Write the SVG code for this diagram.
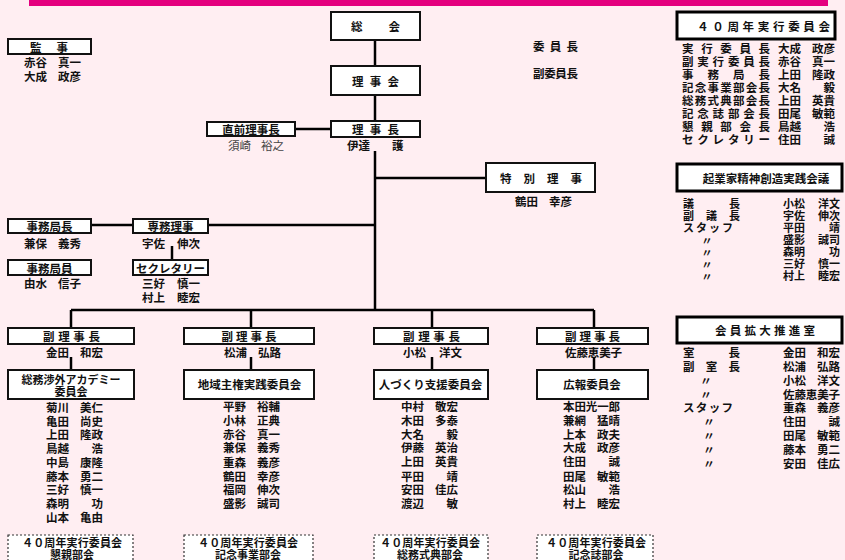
<svg xmlns="http://www.w3.org/2000/svg" width="845" height="560" viewBox="0 0 845 560">
<style>
.t{font-family:"Noto Sans CJK JP","Noto Sans CJK SC",sans-serif;font-weight:700;font-size:11.5px;fill:#111;dominant-baseline:central}
.r{font-size:11.5px}
.s{font-size:11px}
.m{text-anchor:middle}
.e{text-anchor:end}
.lt{font-weight:400;fill:#444}
.box{fill:#fff;stroke:#111;stroke-width:2}
.hbox{fill:#fff;stroke:#000;stroke-width:3}
.dbox{fill:#fff;stroke:#333;stroke-width:1.2;stroke-dasharray:2 2}
.ln{stroke:#000;stroke-width:2.5;fill:none}
</style>
<rect width="845" height="560" fill="#FFEEF2"/>
<rect x="29" y="0" width="799" height="6" fill="#E4007F"/>

<g id="connectors">
<line class="ln" x1="375" y1="40" x2="375" y2="66"/>
<line class="ln" x1="375" y1="95" x2="375" y2="121"/>
<line class="ln" x1="295" y1="129" x2="331" y2="129"/>
<line class="ln" x1="375" y1="151" x2="375" y2="311"/>
<line class="ln" x1="375" y1="178" x2="486" y2="178"/>
<line class="ln" x1="208" y1="225" x2="375" y2="225" stroke-width="3"/>
<line class="ln" x1="91" y1="225" x2="133" y2="225" stroke-width="3"/>
<line class="ln" x1="172" y1="246" x2="172" y2="260" stroke-width="2"/>
<line class="ln" x1="71" y1="310" x2="594" y2="310"/>
<line class="ln" x1="71" y1="310" x2="71" y2="328"/>
<line class="ln" x1="251" y1="310" x2="251" y2="328"/>
<line class="ln" x1="432" y1="310" x2="432" y2="328"/>
<line class="ln" x1="594" y1="310" x2="594" y2="328"/>
<line class="ln" x1="71" y1="357" x2="71" y2="370" stroke-width="2"/>
<line class="ln" x1="251" y1="357" x2="251" y2="370" stroke-width="2"/>
<line class="ln" x1="432" y1="357" x2="432" y2="370" stroke-width="2"/>
<line class="ln" x1="594" y1="357" x2="594" y2="370" stroke-width="2"/>
</g>

<g id="kanji">
<rect class="box" x="8" y="39" width="83" height="15"/>
<text class="t" x="30" y="46.5" textLength="38" lengthAdjust="spacing">監事</text>
<text class="t" x="24" y="62">赤谷</text><text class="t e" x="81" y="62">真一</text>
<text class="t" x="24" y="76">大成</text><text class="t e" x="81" y="76">政彦</text>
</g>

<g id="soukai">
<rect class="box" x="331" y="12" width="89" height="28"/>
<text class="t" x="351" y="26" textLength="49" lengthAdjust="spacing">総会</text>
</g>

<g id="rijikai">
<rect class="box" x="331" y="66" width="89" height="29"/>
<text class="t" x="352" y="80.5" textLength="47" lengthAdjust="spacing">理事会</text>
</g>

<g id="iincho">
<text class="t" x="533" y="46" textLength="45" lengthAdjust="spacing">委員長</text>
<text class="t" x="533" y="73" textLength="45" lengthAdjust="spacing">副委員長</text>
</g>

<g id="rijicho">
<rect class="box" x="331" y="121" width="89" height="16"/>
<text class="t" x="352" y="129" textLength="47" lengthAdjust="spacing">理事長</text>
<text class="t" x="347" y="145">伊達</text><text class="t" x="392" y="145">護</text>
</g>

<g id="zenrijicho">
<rect class="box" x="207" y="122" width="88" height="14"/>
<text class="t m" x="251" y="129">直前理事長</text>
<text class="t lt" x="228" y="145">須崎</text><text class="t lt e" x="284" y="145">裕之</text>
</g>

<g id="tokubetsu">
<rect class="box" x="486" y="163" width="109" height="29"/>
<text class="t" x="500" y="177.5" textLength="82" lengthAdjust="spacing">特別理事</text>
<text class="t" x="515" y="201">鶴田</text><text class="t e" x="572" y="201">幸彦</text>
</g>

<g id="senmu">
<rect class="box" x="133" y="219" width="75" height="14"/>
<text class="t m" x="170.5" y="226">専務理事</text>
<text class="t" x="142" y="243">宇佐</text><text class="t e" x="200" y="243">伸次</text>
</g>

<g id="jimukyokucho">
<rect class="box" x="8" y="219" width="83" height="14"/>
<text class="t m" x="49.5" y="226">事務局長</text>
<text class="t" x="24" y="243">兼保</text><text class="t e" x="81" y="243">義秀</text>
</g>

<g id="jimukyokuin">
<rect class="box" x="8" y="260" width="83" height="15"/>
<text class="t m" x="49.5" y="267.5">事務局員</text>
<text class="t" x="24" y="283">由水</text><text class="t e" x="81" y="283">信子</text>
</g>

<g id="secretary">
<rect class="box" x="133" y="260" width="75" height="15"/>
<text class="t m" x="170.5" y="267.5">セクレタリー</text>
<text class="t" x="142" y="283">三好</text><text class="t e" x="200" y="283">慎一</text>
<text class="t" x="142" y="297">村上</text><text class="t e" x="200" y="297">睦宏</text>
</g>

<g id="anniv40">
<rect class="hbox" x="677" y="12" width="158" height="27"/>
<text class="t r" x="697" y="25.5" textLength="133" lengthAdjust="spacing">４０周年実行委員会</text>
<text class="t r" x="682" y="48" textLength="88" lengthAdjust="spacing">実行委員長</text>
<text class="t r" x="682" y="61" textLength="88" lengthAdjust="spacing">副実行委員長</text>
<text class="t r" x="682" y="74" textLength="88" lengthAdjust="spacing">事務局長</text>
<text class="t r" x="682" y="87" textLength="88" lengthAdjust="spacing">記念事業部会長</text>
<text class="t r" x="682" y="100" textLength="88" lengthAdjust="spacing">総務式典部会長</text>
<text class="t r" x="682" y="113" textLength="88" lengthAdjust="spacing">記念誌部会長</text>
<text class="t r" x="682" y="126" textLength="88" lengthAdjust="spacing">懇親部会長</text>
<text class="t r" x="682" y="139" textLength="88" lengthAdjust="spacing">セクレタリー</text>
<text class="t r" x="778" y="48">大成</text><text class="t r e" x="835" y="48">政彦</text>
<text class="t r" x="778" y="61">赤谷</text><text class="t r e" x="835" y="61">真一</text>
<text class="t r" x="778" y="74">上田</text><text class="t r e" x="835" y="74">隆政</text>
<text class="t r" x="778" y="87">大名</text><text class="t r e" x="835" y="87">毅</text>
<text class="t r" x="778" y="100">上田</text><text class="t r e" x="835" y="100">英貴</text>
<text class="t r" x="778" y="113">田尾</text><text class="t r e" x="835" y="113">敏範</text>
<text class="t r" x="778" y="126">鳥越</text><text class="t r e" x="835" y="126">浩</text>
<text class="t r" x="778" y="139">住田</text><text class="t r e" x="835" y="139">誠</text>
</g>

<g id="kigyouka">
<rect class="hbox" x="677" y="164" width="165" height="27"/>
<text class="t m" x="766" y="177.5">起業家精神創造実践会議</text>
<text class="t s" x="683" y="203" textLength="57" lengthAdjust="spacing">議長</text>
<text class="t s" x="683" y="215" textLength="57" lengthAdjust="spacing">副議長</text>
<text class="t s" x="683" y="227" textLength="50" lengthAdjust="spacing">スタッフ</text>
<text class="t s m" x="707" y="239.5">〃</text>
<text class="t s m" x="707" y="251.5">〃</text>
<text class="t s m" x="707" y="263.5">〃</text>
<text class="t s m" x="707" y="275.5">〃</text>
<text class="t s" x="783" y="203">小松</text><text class="t s e" x="840" y="203">洋文</text>
<text class="t s" x="783" y="215">宇佐</text><text class="t s e" x="840" y="215">伸次</text>
<text class="t s" x="783" y="227">平田</text><text class="t s e" x="840" y="227">靖</text>
<text class="t s" x="783" y="239">盛影</text><text class="t s e" x="840" y="239">誠司</text>
<text class="t s" x="783" y="251">森明</text><text class="t s e" x="840" y="251">功</text>
<text class="t s" x="783" y="263">三好</text><text class="t s e" x="840" y="263">慎一</text>
<text class="t s" x="783" y="275">村上</text><text class="t s e" x="840" y="275">睦宏</text>
</g>

<g id="kaiin">
<rect class="hbox" x="677" y="317" width="165" height="26"/>
<text class="t r" x="715" y="330" textLength="100" lengthAdjust="spacing">会員拡大推進室</text>
<text class="t r" x="683" y="352" textLength="57" lengthAdjust="spacing">室長</text>
<text class="t r" x="683" y="366" textLength="57" lengthAdjust="spacing">副室長</text>
<text class="t r m" x="706" y="380">〃</text>
<text class="t r m" x="706" y="394">〃</text>
<text class="t r" x="683" y="407" textLength="50" lengthAdjust="spacing">スタッフ</text>
<text class="t r m" x="709" y="421">〃</text>
<text class="t r m" x="709" y="435">〃</text>
<text class="t r m" x="709" y="449">〃</text>
<text class="t r m" x="709" y="463">〃</text>
<text class="t r" x="783" y="352">金田</text><text class="t r e" x="840" y="352">和宏</text>
<text class="t r" x="783" y="366">松浦</text><text class="t r e" x="840" y="366">弘路</text>
<text class="t r" x="783" y="380">小松</text><text class="t r e" x="840" y="380">洋文</text>
<text class="t r" x="783" y="394" textLength="57" lengthAdjust="spacing">佐藤恵美子</text>
<text class="t r" x="783" y="407">重森</text><text class="t r e" x="840" y="407">義彦</text>
<text class="t r" x="783" y="421">住田</text><text class="t r e" x="840" y="421">誠</text>
<text class="t r" x="783" y="435">田尾</text><text class="t r e" x="840" y="435">敏範</text>
<text class="t r" x="783" y="449">藤本</text><text class="t r e" x="840" y="449">勇二</text>
<text class="t r" x="783" y="463">安田</text><text class="t r e" x="840" y="463">佳広</text>
</g>

<g id="col1">
<rect class="box" x="8" y="328" width="126" height="16"/>
<text class="t m" x="71.5" y="336" textLength="57" lengthAdjust="spacing">副理事長</text>
<text class="t" x="46" y="352">金田</text><text class="t e" x="103" y="352">和宏</text>
<rect class="box" x="8" y="370" width="126" height="29"/>
<text class="t s m" x="71" y="378.5">総務渉外アカデミー</text>
<text class="t s m" x="71" y="391">委員会</text>
<text class="t" x="46" y="407">菊川</text><text class="t e" x="103" y="407">美仁</text>
<text class="t" x="46" y="421">亀田</text><text class="t e" x="103" y="421">尚史</text>
<text class="t" x="46" y="434">上田</text><text class="t e" x="103" y="434">隆政</text>
<text class="t" x="46" y="448">鳥越</text><text class="t e" x="103" y="448">浩</text>
<text class="t" x="46" y="462">中島</text><text class="t e" x="103" y="462">康隆</text>
<text class="t" x="46" y="476">藤本</text><text class="t e" x="103" y="476">勇二</text>
<text class="t" x="46" y="489">三好</text><text class="t e" x="103" y="489">慎一</text>
<text class="t" x="46" y="503">森明</text><text class="t e" x="103" y="503">功</text>
<text class="t" x="46" y="517">山本</text><text class="t e" x="103" y="517">亀由</text>
<rect class="dbox" x="8" y="535" width="125" height="32"/>
<text class="t s m" x="72" y="542" textLength="100" lengthAdjust="spacing">４０周年実行委員会</text>
<text class="t s m" x="72" y="553.5">懇親部会</text>
</g>

<g id="col2">
<rect class="box" x="184" y="328" width="130" height="16"/>
<text class="t m" x="249" y="336" textLength="55" lengthAdjust="spacing">副理事長</text>
<text class="t" x="224" y="352">松浦</text><text class="t e" x="281" y="352">弘路</text>
<rect class="box" x="184" y="370" width="130" height="29"/>
<text class="t m" x="249.5" y="384">地域主権実践委員会</text>
<text class="t" x="223" y="406">平野</text><text class="t e" x="280" y="406">裕輔</text>
<text class="t" x="223" y="420">小林</text><text class="t e" x="280" y="420">正典</text>
<text class="t" x="223" y="434">赤谷</text><text class="t e" x="280" y="434">真一</text>
<text class="t" x="223" y="447">兼保</text><text class="t e" x="280" y="447">義秀</text>
<text class="t" x="223" y="462">重森</text><text class="t e" x="280" y="462">義彦</text>
<text class="t" x="223" y="476">鶴田</text><text class="t e" x="280" y="476">幸彦</text>
<text class="t" x="223" y="489">福岡</text><text class="t e" x="280" y="489">伸次</text>
<text class="t" x="223" y="503">盛影</text><text class="t e" x="280" y="503">誠司</text>
<rect class="dbox" x="184" y="535" width="129" height="32"/>
<text class="t s m" x="248" y="542" textLength="100" lengthAdjust="spacing">４０周年実行委員会</text>
<text class="t s m" x="248" y="553.5">記念事業部会</text>
</g>

<g id="col3">
<rect class="box" x="374" y="328" width="114" height="16"/>
<text class="t m" x="431.5" y="336" textLength="57" lengthAdjust="spacing">副理事長</text>
<text class="t" x="403" y="352">小松</text><text class="t e" x="462" y="352">洋文</text>
<rect class="box" x="374" y="370" width="114" height="29"/>
<text class="t m" x="430.5" y="384">人づくり支援委員会</text>
<text class="t" x="401" y="406">中村</text><text class="t e" x="458" y="406">敬宏</text>
<text class="t" x="401" y="420">木田</text><text class="t e" x="458" y="420">多泰</text>
<text class="t" x="401" y="434">大名</text><text class="t e" x="458" y="434">毅</text>
<text class="t" x="401" y="447">伊藤</text><text class="t e" x="458" y="447">英治</text>
<text class="t" x="401" y="461">上田</text><text class="t e" x="458" y="461">英貴</text>
<text class="t" x="401" y="476">平田</text><text class="t e" x="458" y="476">靖</text>
<text class="t" x="401" y="489">安田</text><text class="t e" x="458" y="489">佳広</text>
<text class="t" x="401" y="503">渡辺</text><text class="t e" x="458" y="503">敏</text>
<rect class="dbox" x="374" y="535" width="114" height="32"/>
<text class="t s m" x="430" y="542" textLength="100" lengthAdjust="spacing">４０周年実行委員会</text>
<text class="t s m" x="430" y="553.5">総務式典部会</text>
</g>

<g id="col4">
<rect class="box" x="537" y="328" width="111" height="16"/>
<text class="t m" x="592.5" y="336" textLength="55" lengthAdjust="spacing">副理事長</text>
<text class="t" x="565" y="352" textLength="57" lengthAdjust="spacing">佐藤恵美子</text>
<rect class="box" x="537" y="370" width="111" height="29"/>
<text class="t m" x="592" y="384">広報委員会</text>
<text class="t" x="563" y="406" textLength="57" lengthAdjust="spacing">本田光一郎</text>
<text class="t" x="563" y="420">兼網</text><text class="t e" x="620" y="420">猛晴</text>
<text class="t" x="563" y="434">上本</text><text class="t e" x="620" y="434">政夫</text>
<text class="t" x="563" y="447">大成</text><text class="t e" x="620" y="447">政彦</text>
<text class="t" x="563" y="461">住田</text><text class="t e" x="620" y="461">誠</text>
<text class="t" x="563" y="476">田尾</text><text class="t e" x="620" y="476">敏範</text>
<text class="t" x="563" y="489">松山</text><text class="t e" x="620" y="489">浩</text>
<text class="t" x="563" y="503">村上</text><text class="t e" x="620" y="503">睦宏</text>
<rect class="dbox" x="537" y="535" width="116" height="32"/>
<text class="t s m" x="596" y="542" textLength="100" lengthAdjust="spacing">４０周年実行委員会</text>
<text class="t s m" x="596" y="553.5">記念誌部会</text>
</g>
</svg>
